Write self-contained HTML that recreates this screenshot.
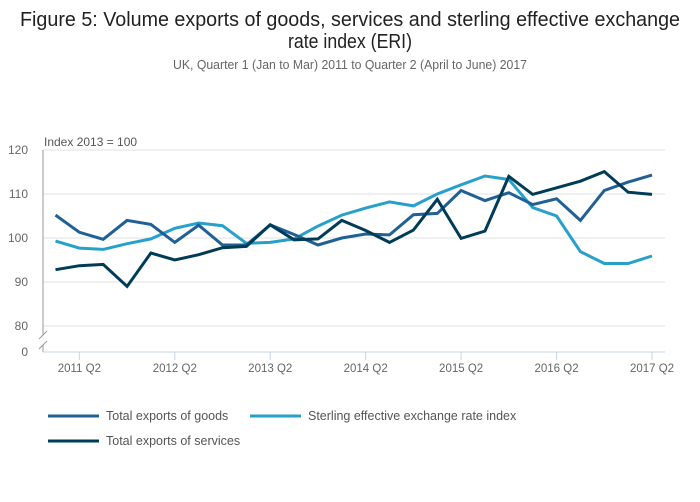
<!DOCTYPE html>
<html><head><meta charset="utf-8">
<style>
html,body{margin:0;padding:0;background:#fff;}
svg{display:block;font-family:"Liberation Sans",sans-serif;}
</style></head>
<body>
<svg id="chart" width="700" height="502" viewBox="0 0 700 502">
  <text x="350" y="26" text-anchor="middle" font-size="20" fill="#222" textLength="660" lengthAdjust="spacingAndGlyphs">Figure 5: Volume exports of goods, services and sterling effective exchange</text>
  <text x="350" y="48" text-anchor="middle" font-size="20" fill="#222" textLength="124" lengthAdjust="spacingAndGlyphs">rate index (ERI)</text>
  <text x="350" y="69" text-anchor="middle" font-size="12.5" fill="#666" textLength="354" lengthAdjust="spacingAndGlyphs">UK, Quarter 1 (Jan to Mar) 2011 to Quarter 2 (April to June) 2017</text>
  <text x="44" y="146" font-size="12" fill="#555">Index 2013 = 100</text>
  <g id="grid"></g>
  <g id="series"></g>
  <g id="legend"></g>
</svg>
<script>
const categories = ["2011Q1","2011Q2","2011Q3","2011Q4","2012Q1","2012Q2","2012Q3","2012Q4","2013Q1","2013Q2","2013Q3","2013Q4","2014Q1","2014Q2","2014Q3","2014Q4","2015Q1","2015Q2","2015Q3","2015Q4","2016Q1","2016Q2","2016Q3","2016Q4","2017Q1","2017Q2"];
const goods = [105.2,101.3,99.7,104.0,103.1,99.0,102.9,98.4,98.4,103.0,100.8,98.4,100.0,100.9,100.7,105.3,105.6,110.8,108.5,110.3,107.6,108.9,104.0,110.8,112.7,114.3];
const eri = [99.3,97.7,97.4,98.7,99.8,102.2,103.4,102.8,98.8,99.0,99.8,102.7,105.2,106.8,108.2,107.3,110.0,112.1,114.1,113.3,106.9,105.0,96.9,94.2,94.2,95.9];
const services = [92.8,93.7,94.0,89.0,96.6,95.0,96.2,97.8,98.1,103.0,99.6,99.8,104.0,101.7,99.0,101.8,108.8,99.9,101.6,114.0,109.9,111.4,112.9,115.1,110.4,109.9];
const yTicks = [80,90,100,110,120];
const xTickLabels = ["2011 Q2","2012 Q2","2013 Q2","2014 Q2","2015 Q2","2016 Q2","2017 Q2"];
const xTickCats = ["2011Q2","2012Q2","2013Q2","2014Q2","2015Q2","2016Q2","2017Q2"];

const NS="http://www.w3.org/2000/svg";
const X0=55.5, X1=652, Y120=150, PXU=4.4, LEFT=43, RIGHT=665, BASE=352;
function xs(i){return X0+(X1-X0)*i/(categories.length-1);}
function ys(v){return Y120+(120-v)*PXU;}
function mk(tag,attrs,parent){const e=document.createElementNS(NS,tag);for(const k in attrs)e.setAttribute(k,attrs[k]);parent.appendChild(e);return e;}

const grid=document.getElementById('grid');
yTicks.forEach(t=>{
  const l=mk('line',{x1:LEFT,x2:RIGHT,y1:ys(t),y2:ys(t),stroke:'#e0e0e0','stroke-width':1},grid);
  
  
  const tx=mk('text',{x:28,y:ys(t)+4,'text-anchor':'end','font-size':12,fill:'#666'},grid);
  tx.textContent=t;
  
  
});
const z=mk('text',{x:28,y:BASE+4,'text-anchor':'end','font-size':12,fill:'#666'},grid);
z.textContent='0';


const ya=mk('path',{d:`M${LEFT},${ys(120)}V${ys(80)+9}M${LEFT},${ys(80)+19}V${BASE}`,stroke:'#999',fill:'none','stroke-width':1},grid);


const brk=mk('path',{d:`M${LEFT-4},${ys(80)+13}L${LEFT+4},${ys(80)+5}M${LEFT-4},${ys(80)+23}L${LEFT+4},${ys(80)+15}`,stroke:'#999',fill:'none','stroke-width':1},grid);


const xa=mk('line',{x1:LEFT,x2:RIGHT,y1:BASE,y2:BASE,stroke:'#c6d4e8','stroke-width':1},grid);


xTickCats.forEach((c,k)=>{
  const x=xs(categories.indexOf(c));
  const tk=mk('line',{x1:x,x2:x,y1:BASE,y2:BASE+8,stroke:'#c6d4e8'},grid);
  
  
  const t=mk('text',{x:x,y:BASE+20,'text-anchor':'middle','font-size':11.5,fill:'#666'},grid);
  t.textContent=xTickLabels[k];
  
  
});

const ser=document.getElementById('series');
const defs=[[eri,'#27a0cc','eri-line'],[goods,'#206095','goods-line'],[services,'#003c57','services-line']];
defs.forEach(([arr,col,name])=>{
  const d=arr.map((v,i)=>(i?'L':'M')+xs(i).toFixed(1)+','+ys(v).toFixed(1)).join('');
  const p=mk('path',{d:d,stroke:col,'stroke-width':3,fill:'none','stroke-linejoin':'miter'},ser);
  
  
});

const lg=document.getElementById('legend');
const items=[[48,416,'#206095','Total exports of goods','legend-goods'],[250,416,'#27a0cc','Sterling effective exchange rate index','legend-eri'],[48,441,'#003c57','Total exports of services','legend-services']];
items.forEach(([x,y,col,label,name])=>{
  const g=mk('g',{},lg);
  
  
  mk('line',{x1:x,x2:x+51,y1:y,y2:y,stroke:col,'stroke-width':3},g);
  const t=mk('text',{x:x+58,y:y+4,'font-size':12.5,fill:'#555'},g);
  t.textContent=label;
});
</script>
</body></html>
